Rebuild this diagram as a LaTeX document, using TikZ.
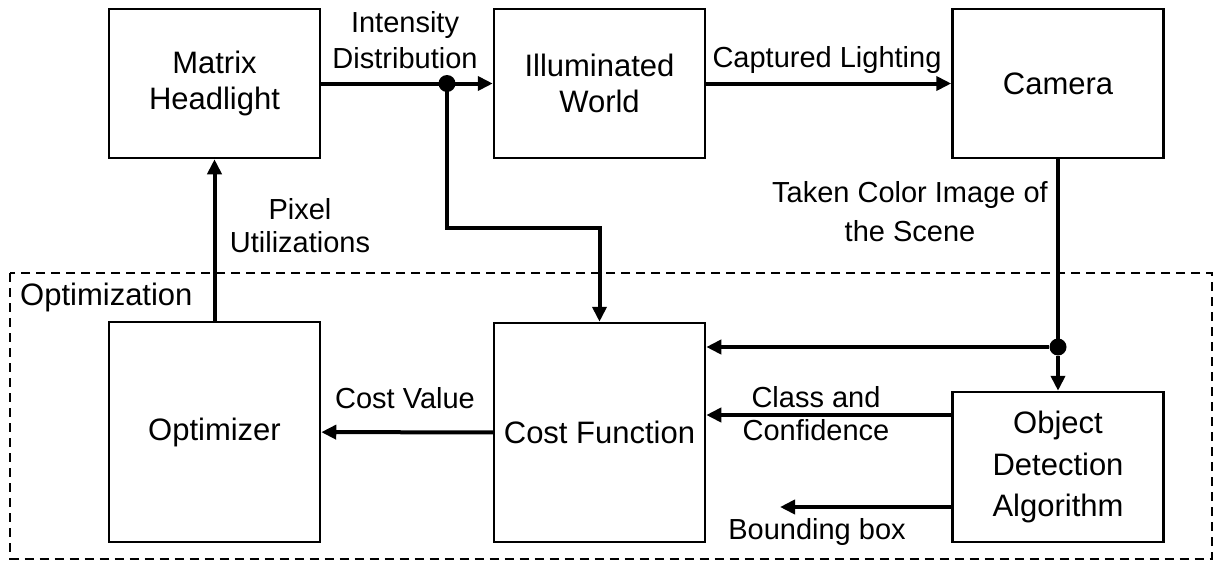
\documentclass[tikz,border=0pt]{standalone}
\usepackage{fontspec}
\setmainfont{Liberation Sans}
\usetikzlibrary{positioning,arrows.meta,calc}

\begin{document}
\begin{tikzpicture}[x=1pt, y=-1pt,
  every node/.append style={font=\fontsize{29}{36}\selectfont},
  blk/.style={draw, line width=2.5pt, minimum width=211pt, inner sep=0pt, align=center, font=\fontsize{31}{36}\selectfont},
  flow/.style={line width=4pt, -{Triangle[length=15pt,width=14pt]}},
  wire/.style={line width=4pt},
  lbl/.style={align=center, inner sep=0pt},
  dot/.style={circle, fill, minimum size=17pt, inner sep=0pt},
  grp/.style={draw, line width=2pt, dash pattern=on 9pt off 6pt}
]
\useasboundingbox (0,0) rectangle (1215,560);
\draw[grp] (10,273) rectangle (1212,558.5);
\node[anchor=base west, inner sep=0pt, font=\fontsize{31}{36}\selectfont] (optlbl) at (20,305) {Optimization};

% blocks
\node[blk, minimum height=149pt] (mh)  at (214.5,83.5) {Matrix\\Headlight};
\node[blk, minimum height=149pt] (iw)  at (599.5,83.5) {Illuminated\\World};
\node[blk, minimum height=149pt] (cam) at (1058,83.5)  {Camera};
\node[blk, minimum height=220pt] (opt) at (214.5,432)  {Optimizer};
\node[blk, minimum height=219pt] (cf)  at (599.5,432.5) {Cost Function};
\node[blk, minimum height=150pt, font=\fontsize{31}{41.5}\selectfont] (oda) at (1058,467) {Object\\Detection\\Algorithm};

% junctions
\node[dot] (j1) at (447,83.5) {};
\node[dot] (j2) at (1058,347) {};
\coordinate (bend) at (447,228);
\coordinate (cc) at (952,415);
\coordinate (bb) at (952,507);
\coordinate (bbend) at (780,507);

% connectors
\draw[flow] (mh) -- (iw);
\draw[flow] (iw) -- (cam);
\draw[flow] (j1.center) -- (bend) -| (cf.north);
\draw[wire] (cam) -- (j2.center);
\draw[flow] (j2) -- (oda);
\draw[flow] (j2) -- (j2 -| cf.east);
\draw[flow] (opt) -- (mh);
\draw[flow] (cf) -- (opt);
\draw[flow] (cc) -- (cc -| cf.east);
\draw[flow] (bb) -- (bbend);

% labels
\node[lbl] (lint) at (405,40) {Intensity\\Distribution};
\node[lbl, anchor=base] (lcap) at (827,67) {Captured Lighting};
\node[lbl, font=\fontsize{29}{33}\selectfont] (lpix) at (300,226) {Pixel\\Utilizations};
\node[lbl, font=\fontsize{29}{39}\selectfont] (limg) at (910,212) {Taken Color Image of\\the Scene};
\node[lbl, anchor=base] (lcost) at (405,408) {Cost Value};
\node[lbl, font=\fontsize{29}{33}\selectfont] (lcls) at (816,414) {Class and\\Confidence};
\node[lbl, anchor=base] (lbb) at (817,539) {Bounding box};
\end{tikzpicture}
\end{document}
